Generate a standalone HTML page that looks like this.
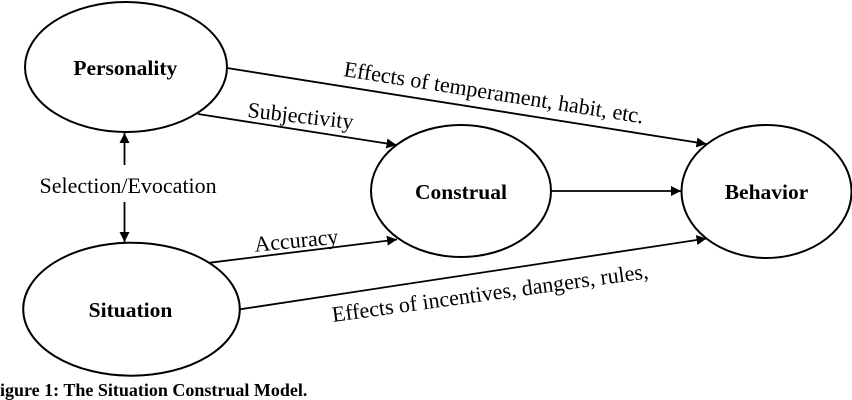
<!DOCTYPE html>
<html>
<head>
<meta charset="utf-8">
<style>
  html, body { margin: 0; padding: 0; background: #ffffff; }
  body { width: 852px; height: 400px; overflow: hidden; }
  svg { display: block; }
  .lbl { font-family: "Liberation Serif", "Times New Roman", serif; font-size: 22px; fill: #000; }
  .node { font-family: "Liberation Serif", "Times New Roman", serif; font-size: 21.5px; font-weight: bold; fill: #000; }
  .cap { font-family: "Liberation Serif", "Times New Roman", serif; font-size: 18px; font-weight: bold; fill: #000; }
</style>
</head>
<body>
<svg width="852" height="400" viewBox="0 0 852 400" xmlns="http://www.w3.org/2000/svg">
  <defs>
    <marker id="ah" viewBox="0 0 10 10" refX="10" refY="5" markerWidth="10" markerHeight="10" markerUnits="userSpaceOnUse" orient="auto">
      <path d="M0,0 L10,5 L0,10 z" fill="#000"/>
    </marker>
  </defs>

  <!-- Ellipses -->
  <ellipse cx="126" cy="67" rx="101" ry="65" fill="none" stroke="#000" stroke-width="2"/>
  <ellipse cx="131.5" cy="309.2" rx="108.3" ry="66.5" fill="none" stroke="#000" stroke-width="2"/>
  <ellipse cx="461" cy="191" rx="90" ry="66" fill="none" stroke="#000" stroke-width="2"/>
  <ellipse cx="766.5" cy="191.5" rx="85" ry="66.5" fill="none" stroke="#000" stroke-width="2"/>

  <!-- Node labels -->
  <text class="node" x="125.3" y="75" text-anchor="middle">Personality</text>
  <text class="node" x="130.5" y="317" text-anchor="middle">Situation</text>
  <text class="node" x="461" y="199" text-anchor="middle">Construal</text>
  <text class="node" x="766.5" y="199" text-anchor="middle">Behavior</text>

  <!-- Connectors -->
  <line x1="227" y1="68" x2="706.5" y2="144" stroke="#000" stroke-width="1.8" marker-end="url(#ah)"/>
  <line x1="198" y1="114" x2="396.5" y2="145" stroke="#000" stroke-width="1.8" marker-end="url(#ah)"/>
  <line x1="551" y1="191" x2="681" y2="191" stroke="#000" stroke-width="1.8" marker-end="url(#ah)"/>
  <line x1="210" y1="262.7" x2="397" y2="239.5" stroke="#000" stroke-width="1.8" marker-end="url(#ah)"/>
  <line x1="240" y1="309.3" x2="706.5" y2="238.5" stroke="#000" stroke-width="1.8" marker-end="url(#ah)"/>
  <line x1="124.5" y1="165" x2="124.5" y2="133" stroke="#000" stroke-width="1.8" marker-end="url(#ah)"/>
  <line x1="124.5" y1="202" x2="124.5" y2="242" stroke="#000" stroke-width="1.8" marker-end="url(#ah)"/>

  <!-- Connector labels -->
  <text class="lbl" x="343" y="76" transform="rotate(9 343 76)">Effects of temperament, habit, etc.</text>
  <text class="lbl" x="247" y="117" transform="rotate(6.5 247 117)">Subjectivity</text>
  <text class="lbl" x="255" y="251.7" transform="rotate(-5.5 255 251.7)">Accuracy</text>
  <text class="lbl" x="333" y="322" transform="rotate(-7.9 333 322)">Effects of incentives, dangers, rules,</text>
  <text class="lbl" x="39.5" y="193">Selection/Evocation</text>

  <!-- Caption -->
  <text class="cap" x="-11" y="396">Figure 1: The Situation Construal Model.</text>
</svg>
</body>
</html>
